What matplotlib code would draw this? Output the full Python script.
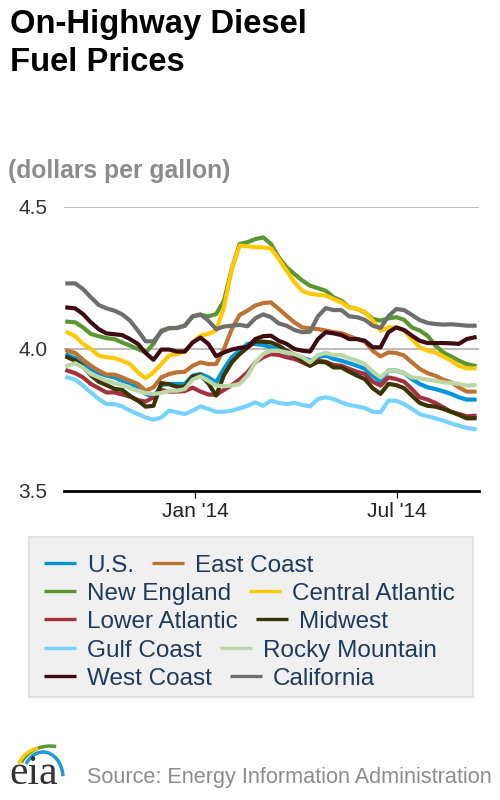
import pandas as pd
import matplotlib
matplotlib.use("Agg")
import matplotlib.pyplot as plt
from matplotlib.patches import Rectangle, Arc

plt.rcParams['font.family'] = ['Liberation Sans', 'DejaVu Sans']

# weekly on-highway diesel prices, dollars per gallon
weeks = pd.date_range('2013-09-09', periods=53, freq='7D')

us = [3.979, 3.967, 3.947, 3.930, 3.915, 3.906, 3.900, 3.888, 3.880, 3.865,
      3.842, 3.830, 3.873, 3.877, 3.877, 3.877, 3.906, 3.912, 3.900, 3.883,
      3.930, 3.971, 3.994, 4.018, 4.018, 4.014, 4.006, 4.002, 3.988, 3.977,
      3.971, 3.959, 3.971, 3.977, 3.965, 3.959, 3.950, 3.941, 3.930, 3.906,
      3.885, 3.924, 3.924, 3.915, 3.894, 3.877, 3.865, 3.859, 3.851, 3.842,
      3.830, 3.822, 3.822]
east_coast = [3.994, 3.986, 3.962, 3.941, 3.924, 3.910, 3.910, 3.900, 3.888, 3.877,
              3.853, 3.865, 3.900, 3.912, 3.918, 3.920, 3.941, 3.953, 3.947, 3.947,
              4.000, 4.070, 4.120, 4.135, 4.153, 4.162, 4.164, 4.141, 4.117, 4.094,
              4.076, 4.073, 4.070, 4.065, 4.059, 4.056, 4.045, 4.035, 4.026, 3.994,
              3.974, 3.988, 3.986, 3.977, 3.953, 3.930, 3.915, 3.906, 3.892, 3.883,
              3.865, 3.850, 3.850]
new_england = [4.096, 4.094, 4.076, 4.053, 4.045, 4.038, 4.035, 4.023, 4.012, 4.000,
               3.988, 4.018, 4.065, 4.074, 4.074, 4.082, 4.115, 4.120, 4.115, 4.123,
               4.170, 4.282, 4.370, 4.376, 4.387, 4.393, 4.370, 4.323, 4.288, 4.264,
               4.241, 4.223, 4.214, 4.205, 4.182, 4.170, 4.147, 4.141, 4.129, 4.106,
               4.100, 4.108, 4.112, 4.103, 4.076, 4.065, 4.047, 4.012, 3.988, 3.974,
               3.959, 3.947, 3.941]
central_atlantic = [4.059, 4.045, 4.018, 4.000, 3.977, 3.971, 3.968, 3.959, 3.947, 3.918,
                    3.897, 3.918, 3.947, 3.977, 3.982, 3.991, 4.023, 4.047, 4.053, 4.065,
                    4.147, 4.282, 4.364, 4.362, 4.358, 4.358, 4.354, 4.317, 4.276, 4.235,
                    4.205, 4.194, 4.191, 4.188, 4.176, 4.164, 4.147, 4.141, 4.131, 4.100,
                    4.065, 4.076, 4.076, 4.065, 4.035, 4.006, 3.994, 3.988, 3.974, 3.959,
                    3.941, 3.932, 3.932]
lower_atlantic = [3.924, 3.915, 3.900, 3.877, 3.862, 3.847, 3.847, 3.840, 3.832, 3.820,
                  3.815, 3.830, 3.856, 3.850, 3.850, 3.852, 3.864, 3.850, 3.840, 3.838,
                  3.856, 3.873, 3.893, 3.918, 3.953, 3.971, 3.982, 3.979, 3.971, 3.965,
                  3.953, 3.941, 3.959, 3.955, 3.944, 3.941, 3.930, 3.920, 3.912, 3.885,
                  3.871, 3.900, 3.894, 3.885, 3.859, 3.830, 3.822, 3.810, 3.795, 3.779,
                  3.771, 3.763, 3.765]
midwest = [3.971, 3.959, 3.938, 3.908, 3.885, 3.873, 3.860, 3.856, 3.835, 3.818,
           3.797, 3.800, 3.880, 3.876, 3.867, 3.867, 3.903, 3.908, 3.879, 3.836,
           3.908, 3.953, 3.982, 4.005, 4.026, 4.026, 4.023, 4.012, 3.994, 3.979,
           3.959, 3.941, 3.955, 3.953, 3.935, 3.935, 3.920, 3.906, 3.894, 3.862,
           3.842, 3.877, 3.873, 3.862, 3.836, 3.810, 3.800, 3.797, 3.789, 3.779,
           3.768, 3.756, 3.756]
gulf_coast = [3.900, 3.892, 3.871, 3.847, 3.824, 3.806, 3.806, 3.798, 3.783, 3.771,
              3.759, 3.751, 3.759, 3.783, 3.777, 3.771, 3.783, 3.798, 3.789, 3.779,
              3.779, 3.783, 3.791, 3.800, 3.812, 3.800, 3.818, 3.810, 3.806, 3.810,
              3.803, 3.798, 3.824, 3.830, 3.824, 3.812, 3.803, 3.798, 3.792, 3.779,
              3.777, 3.818, 3.818, 3.806, 3.789, 3.771, 3.763, 3.756, 3.748, 3.738,
              3.730, 3.722, 3.718]
rocky_mountain = [3.941, 3.950, 3.935, 3.912, 3.900, 3.888, 3.880, 3.873, 3.862, 3.853,
                  3.845, 3.842, 3.845, 3.853, 3.853, 3.859, 3.892, 3.904, 3.888, 3.871,
                  3.869, 3.871, 3.877, 3.906, 3.953, 3.982, 3.994, 3.994, 3.988, 3.982,
                  3.971, 3.953, 3.979, 3.986, 3.979, 3.979, 3.967, 3.959, 3.947, 3.920,
                  3.900, 3.924, 3.924, 3.915, 3.900, 3.897, 3.892, 3.888, 3.883, 3.880,
                  3.877, 3.871, 3.873]
west_coast = [4.146, 4.143, 4.123, 4.094, 4.070, 4.055, 4.052, 4.049, 4.035, 4.018,
              3.986, 3.962, 3.998, 3.998, 3.991, 3.991, 4.023, 4.040, 4.018, 3.975,
              3.988, 3.998, 4.004, 4.007, 4.035, 4.045, 4.047, 4.029, 4.018, 4.000,
              3.994, 3.991, 4.035, 4.059, 4.055, 4.049, 4.035, 4.035, 4.029, 4.006,
              4.006, 4.059, 4.076, 4.067, 4.047, 4.029, 4.021, 4.021, 4.021, 4.020,
              4.018, 4.035, 4.041]
california = [4.231, 4.231, 4.211, 4.182, 4.155, 4.143, 4.135, 4.122, 4.100, 4.065,
              4.027, 4.027, 4.061, 4.073, 4.074, 4.082, 4.115, 4.122, 4.100, 4.070,
              4.079, 4.082, 4.085, 4.080, 4.108, 4.122, 4.112, 4.090, 4.082, 4.067,
              4.059, 4.061, 4.115, 4.144, 4.137, 4.137, 4.115, 4.112, 4.103, 4.082,
              4.074, 4.115, 4.141, 4.137, 4.120, 4.102, 4.092, 4.088, 4.086, 4.087,
              4.085, 4.082, 4.082]

series_names = ['U.S.', 'East Coast', 'New England', 'Central Atlantic', 'Lower Atlantic',
                'Midwest', 'Gulf Coast', 'Rocky Mountain', 'West Coast', 'California']
series_values = [us, east_coast, new_england, central_atlantic, lower_atlantic,
                 midwest, gulf_coast, rocky_mountain, west_coast, california]
series_colors = ['#0096d7', '#bd7331', '#5a9632', '#ffc800', '#a3323f',
                 '#3b3300', '#78d2ff', '#bcd7a6', '#3f0b12', '#6e6e6e']

y_ticks = [3.5, 4.0, 4.5]
y_labels = ['3.5', '4.0', '4.5']
x_ticks = pd.to_datetime(['2014-01-01', '2014-07-01'])
x_labels = ["Jan '14", "Jul '14"]

fig = plt.figure(figsize=(5, 8), dpi=100)

# main chart
ax = fig.add_axes([64 / 500, 1 - 491 / 800, (479 - 64) / 500, (491 - 207) / 800])
for y in y_ticks[1:]:
    ax.axhline(y, color='#bdbdbd', lw=1.5, zorder=0)
for name, vals, col in zip(series_names, series_values, series_colors):
    ax.plot(weeks, vals, color=col, lw=3.0, solid_joinstyle='round', label=name)

ax.set_ylim(3.5, 4.5)
ax.set_xlim(pd.Timestamp('2013-09-06'), pd.Timestamp('2014-09-12'))
ax.set_yticks(y_ticks)
ax.set_yticklabels(y_labels)
ax.set_xticks(x_ticks)
ax.set_xticklabels(x_labels)
for s in ['top', 'right', 'left']:
    ax.spines[s].set_visible(False)
ax.spines['bottom'].set_linewidth(2.0)
ax.spines['bottom'].set_color('black')
ax.tick_params(axis='y', length=0, pad=12, labelsize=15, labelcolor='#333333')
ax.tick_params(axis='x', length=5, width=0.9, pad=3, labelsize=15, labelcolor='#222222')
ax.set_facecolor('none')

# overlay in pixel coords for title, legend, footer
ov = fig.add_axes([0, 0, 1, 1], zorder=-1)
ov.set_xlim(0, 500)
ov.set_ylim(800, 0)
ov.axis('off')

ov.text(10, 33, 'On-Highway Diesel', fontsize=23.6, fontweight='bold', color='black', va='baseline')
ov.text(10, 71, 'Fuel Prices', fontsize=23.6, fontweight='bold', color='black', va='baseline')
ov.text(8, 178, '(dollars per gallon)', fontsize=17.8, fontweight='bold', color='#8c8c8c', va='baseline')

# legend box, entries flow left to right two per row
ov.add_patch(Rectangle((29, 537), 444, 160, facecolor='#f0f0f0', edgecolor='#e2e2e2', lw=1.5))
renderer = fig.canvas.get_renderer()
row_y = [563, 591, 619, 648, 676]
for r, y in enumerate(row_y):
    x = 44
    for k in range(2):
        idx = r * 2 + k
        ov.plot([x, x + 32], [y, y], color=series_colors[idx], lw=2.4, solid_capstyle='butt')
        t = ov.text(x + 43, y + 9, series_names[idx], fontsize=17.5, color='#1f3b5c', va='baseline')
        w = t.get_window_extent(renderer=renderer).width
        x = x + 43 + w + 18

# footer
ov.text(87, 783, 'Source: Energy Information Administration', fontsize=15.6, color='#8c8c8c', va='baseline')
ov.text(9, 784, 'eia', fontsize=30, color='#333333', va='baseline', family=['Liberation Serif', 'DejaVu Serif'])
ov.add_patch(Arc((43, 778), 40, 52, theta1=220, theta2=355, color='#1e9ad6', lw=2.5))
ov.add_patch(Arc((50, 776), 64, 60, theta1=205, theta2=282, color='#5a9a32', lw=2.5))
ov.add_patch(Arc((42, 776), 52, 56, theta1=208, theta2=262, color='#ffc800', lw=2.5))

fig.savefig('out.png', dpi=100)
